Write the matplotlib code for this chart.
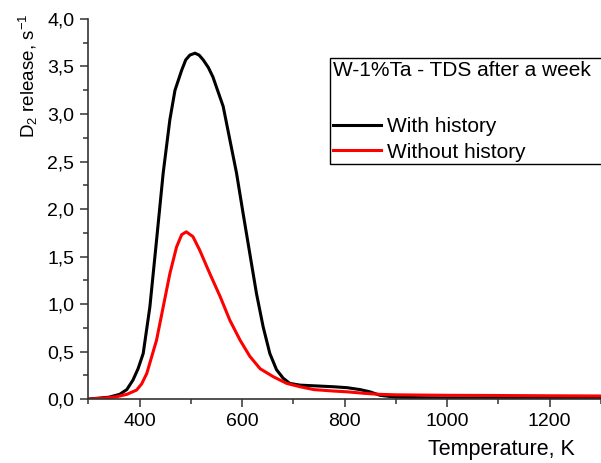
import matplotlib
matplotlib.use("Agg")
import matplotlib.pyplot as plt
from matplotlib.ticker import MultipleLocator, FuncFormatter
from matplotlib.patches import Rectangle
import numpy as np

plt.rcParams['font.family'] = ['Liberation Sans', 'DejaVu Sans']
plt.rcParams['mathtext.fontset'] = 'custom'
plt.rcParams['mathtext.rm'] = 'Liberation Sans'
plt.rcParams['mathtext.it'] = 'Liberation Sans'
plt.rcParams['axes.unicode_minus'] = False

# Black: with history
T_with = [300, 320, 340, 361, 375, 387, 397, 407, 420, 433, 446, 459, 469, 482, 490, 498,
          508, 516, 524, 534, 543, 563, 576, 589, 602, 615, 628, 641, 654, 667, 680, 693,
          713, 740, 778, 805, 830, 849, 869, 900, 950, 1000, 1100, 1200, 1300]
v_with = [0.0, 0.01, 0.02, 0.05, 0.10, 0.20, 0.32, 0.48, 0.97, 1.67, 2.38, 2.94, 3.25, 3.46, 3.57, 3.62,
          3.64, 3.62, 3.57, 3.49, 3.39, 3.08, 2.73, 2.38, 1.95, 1.53, 1.11, 0.76, 0.48, 0.31, 0.22, 0.165,
          0.147, 0.14, 0.13, 0.12, 0.10, 0.077, 0.04, 0.02, 0.015, 0.012, 0.01, 0.01, 0.01]

# Red: without history
T_without = [300, 330, 355, 375, 394, 404, 414, 433, 446, 459, 472, 482, 491, 504, 517, 537,
             557, 576, 596, 615, 635, 661, 687, 713, 740, 778, 804, 840, 869, 900, 1000, 1100,
             1200, 1300]
v_without = [0.0, 0.01, 0.025, 0.05, 0.095, 0.16, 0.27, 0.62, 0.97, 1.32, 1.60, 1.73, 1.76, 1.71, 1.57, 1.32,
             1.08, 0.83, 0.62, 0.45, 0.32, 0.235, 0.165, 0.13, 0.10, 0.085, 0.077, 0.06, 0.05, 0.045, 0.04, 0.038,
             0.035, 0.033]

W, H = 601, 463
fig = plt.figure(figsize=(W / 100, H / 100), dpi=100)
ax = fig.add_axes([0.147, 0.138, 0.853, 0.821])

l1, = ax.plot(T_with, v_with, color='black', lw=2.2, label='With history')
l2, = ax.plot(T_without, v_without, color='red', lw=2.2, label='Without history')

ax.set_xlim(300, 1300)
ax.set_ylim(0, 4.0)
ax.xaxis.set_major_locator(MultipleLocator(200))
ax.xaxis.set_minor_locator(MultipleLocator(100))
ax.yaxis.set_major_locator(MultipleLocator(0.5))
ax.yaxis.set_minor_locator(MultipleLocator(0.25))
ax.yaxis.set_major_formatter(FuncFormatter(lambda v, p: f"{v:.1f}".replace('.', ',')))

for s in ['top', 'right']:
    ax.spines[s].set_visible(False)
for s in ['left', 'bottom']:
    ax.spines[s].set_color('#333333')
    ax.spines[s].set_linewidth(1.2)

ax.tick_params(which='major', direction='out', length=6, width=1.1, labelsize=14, color='#333333', pad=4)
ax.tick_params(which='minor', direction='out', length=3.5, width=1.1, color='#333333')

ax.set_xlabel('Temperature, K', fontsize=15.5)
ax.xaxis.set_label_coords(0.805, -0.105)
ax.set_ylabel('D$_2$ release, s$^{-1}$', fontsize=13.5)
ax.yaxis.set_label_coords(-0.095, 0.85)

leg = ax.legend(handles=[l1, l2], title='W-1%Ta - TDS after a week\n', title_fontsize=15,
                fontsize=15, loc='upper left', bbox_to_anchor=(330 / W, 1 - 58 / H),
                bbox_transform=fig.transFigure, frameon=False,
                borderpad=0.15, handlelength=2.3, handletextpad=0.3, labelspacing=0.3,
                borderaxespad=0, alignment='left', handleheight=0.7)
leg.get_title().set_linespacing(1.8)

# legend frame extending beyond the right edge of the figure
frame = Rectangle((330 / W, 1 - 164 / H), (640 - 330) / W, (164 - 58) / H,
                  transform=fig.transFigure, fill=False, edgecolor='black', lw=1.0)
fig.add_artist(frame)

fig.savefig('out.png', dpi=100)
